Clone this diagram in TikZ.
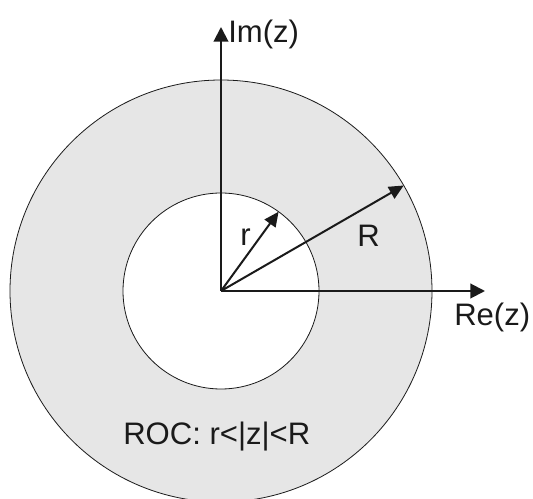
\documentclass[tikz,border=0pt]{standalone}
\usepackage{fontspec}
\setmainfont{Liberation Sans}
\usetikzlibrary{arrows.meta,calc}
\definecolor{ringgray}{HTML}{E6E6E6}
\definecolor{inkc}{HTML}{1A1A1A}
\tikzset{
  axis/.style={draw=inkc, line width=1.5pt, -{Triangle[length=11pt,width=11pt]}},
  radius arrow/.style={draw=inkc, line width=1.5pt, -{Triangle[length=11pt,width=10pt]}},
  lbl/.style={inner sep=0pt, anchor=base west, text=inkc, font=\fontsize{23.3pt}{26pt}\selectfont},
  rim/.style={draw=inkc, line width=0.6pt}
}
\begin{document}
\begin{tikzpicture}[x=0.75pt, y=-0.75pt]
  \useasboundingbox (0,0) rectangle (533,499);
  \clip (0,0) rectangle (533,499);
  \coordinate (O) at (221,291);
  \fill[ringgray] (O) circle[radius=158.25pt];
  \draw[rim] (O) circle[radius=158.25pt];
  \fill[white] (O) circle[radius=73.5pt];
  \draw[rim] (O) circle[radius=73.5pt];
  \coordinate (imtip) at (221,27);
  \coordinate (retip) at (485,291);
  \coordinate (Rtip) at ($(O)+(30:158.25pt)$);
  \coordinate (rtip) at ($(O)+(54:73.5pt)$);
  \draw[axis] (O) -- (imtip);
  \draw[axis] (O) -- (retip);
  \draw[radius arrow] (O) -- (Rtip);
  \draw[radius arrow] (O) -- (rtip);
  \node[lbl] (imlbl) at (228,43) {Im(z)};
  \node[lbl] (relbl) at (454,326) {Re(z)};
  \node[lbl] (Rlbl) at (357,247) {R};
  \node[lbl] (rlbl) at (240,246) {r};
  \node[lbl] (roc) at (123,445) {ROC: r<|z|<R};
\end{tikzpicture}
\end{document}
